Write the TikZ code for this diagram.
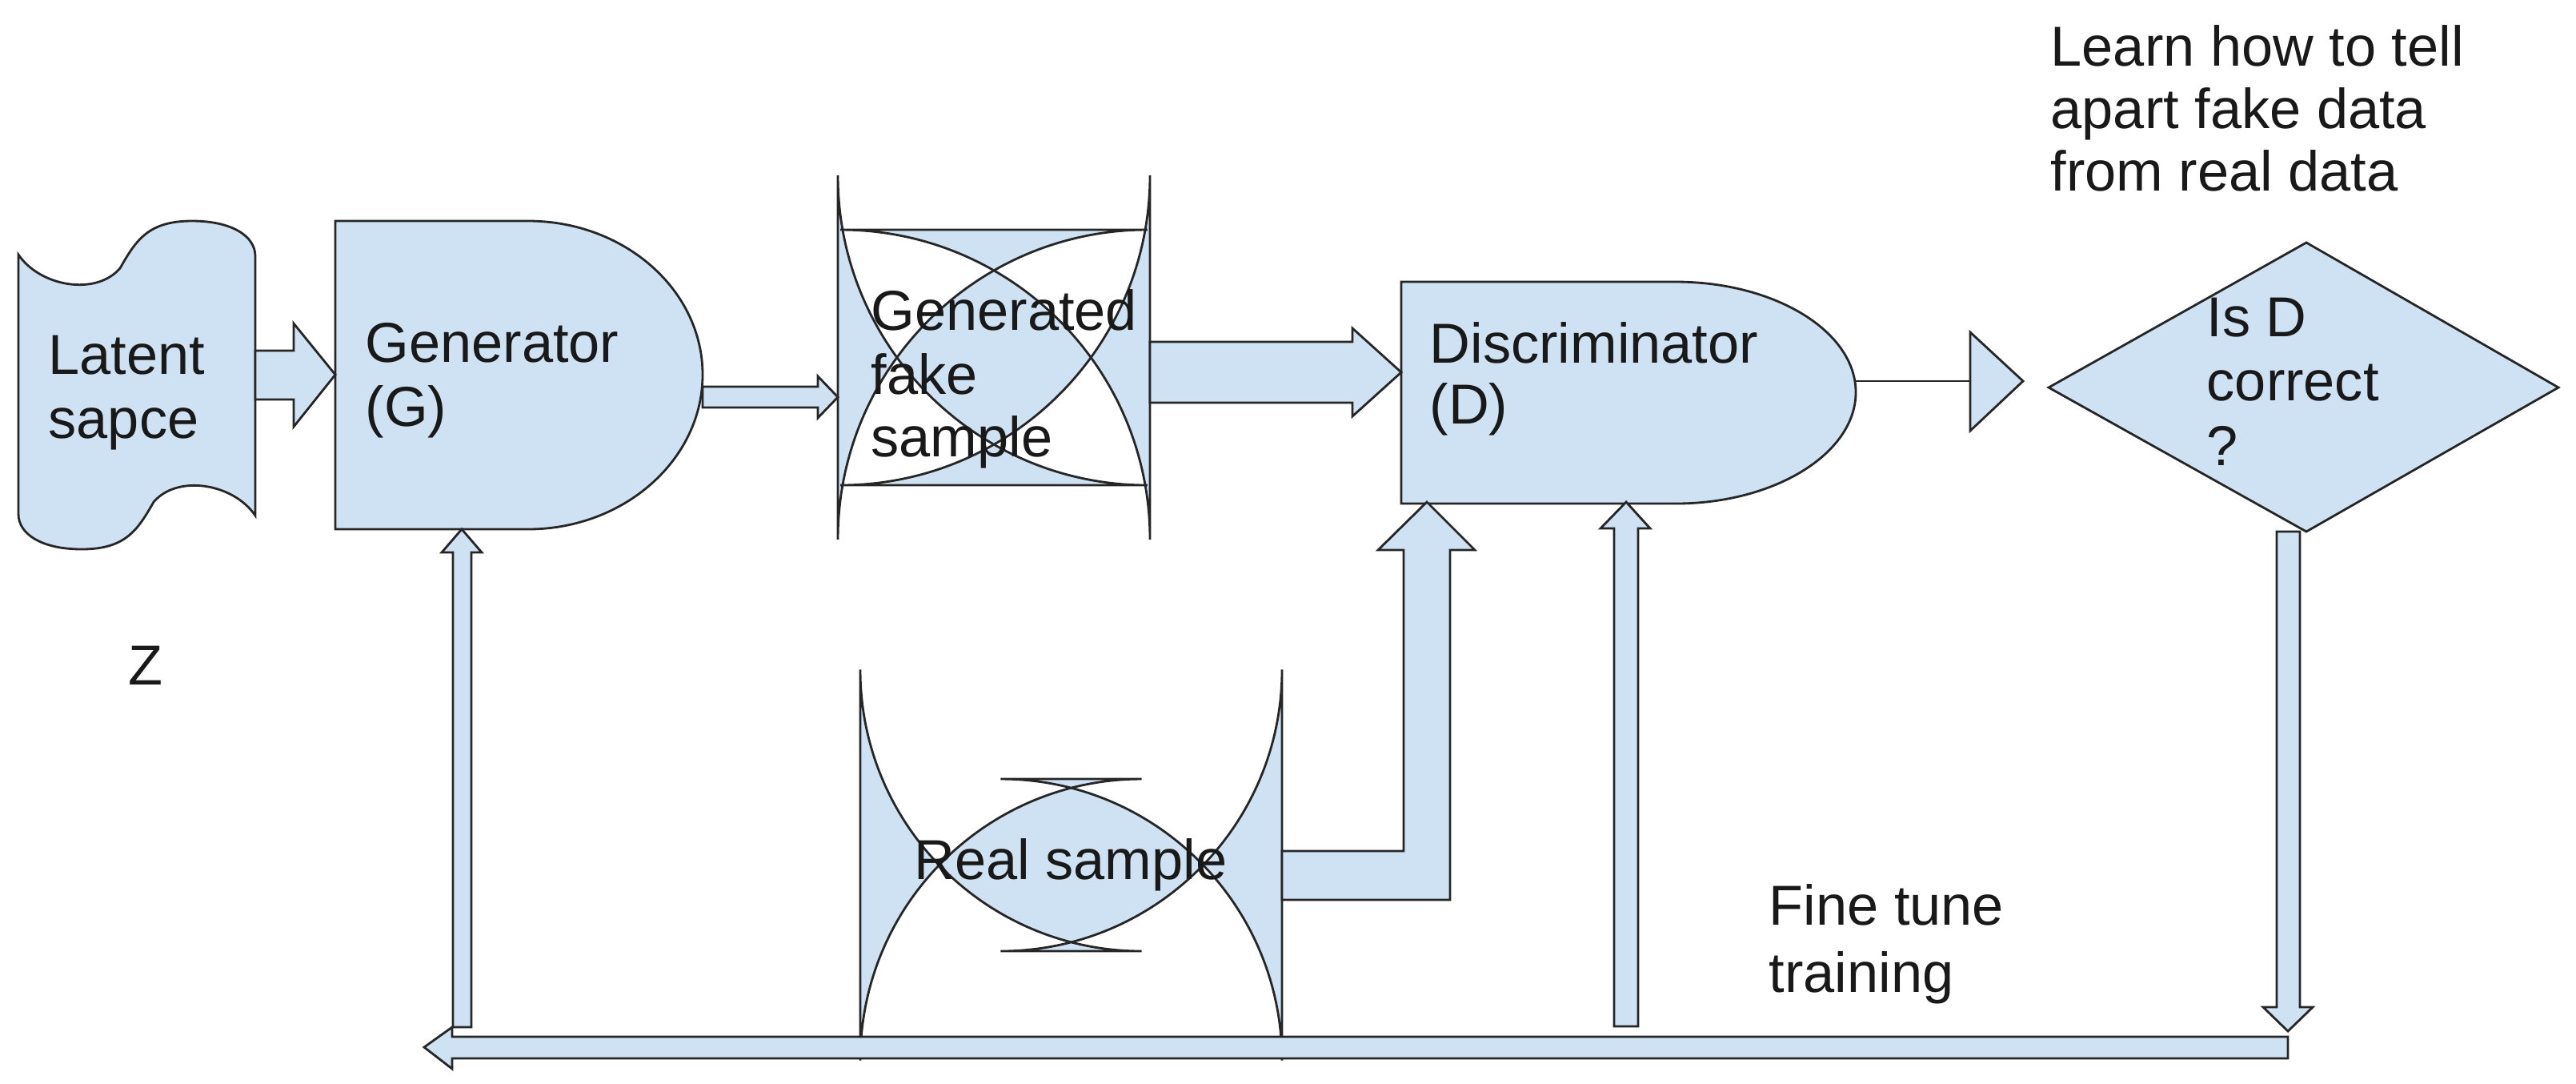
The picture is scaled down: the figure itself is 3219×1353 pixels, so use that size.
\documentclass[tikz,border=0pt]{standalone}
\usepackage{fontspec}
\setmainfont{Liberation Sans}
\begin{document}
\begin{tikzpicture}[x=0.01cm,y=-0.01cm,
  blk/.style={fill=boxblue,draw=black!85,line width=0.8pt,line join=miter},
  txt/.style={anchor=base west,inner sep=0pt,font=\fontsize{20}{23}\selectfont,text=black!90},
  ml/.style={txt,align=left,anchor=north west}]
\definecolor{boxblue}{HTML}{CFE2F3}
\useasboundingbox (0,0) rectangle (3219,1353);
% Latent space (tape)
\draw[blk] (23,318) .. controls (50,358) and (120,370) .. (150,335) .. controls (170,300) and (185,276) .. (240,276) .. controls (290,276) and (319,295) .. (319,320) -- (319,644) .. controls (292,604) and (222,592) .. (192,627) .. controls (172,662) and (157,686) .. (102,686) .. controls (52,686) and (23,667) .. (23,642) -- cycle;
\node[txt] (lat1) at (60,467) {Latent};
\node[txt] (lat2) at (60,547) {sapce};
% Generator
\draw[blk] (419,276) -- (660,276) .. controls (780,276) and (878,362) .. (878,468) .. controls (878,574) and (780,661) .. (660,661) -- (419,661) -- cycle;
\node[txt] (gen1) at (456,452) {Generator};
\node[txt] (gen2) at (456,532) {(G)};
% Generated fake sample
\draw[blk,rounded corners=110] (1047,287) rectangle (1437,606);
\node[txt] (f1) at (1088,412) {Generated};
\node[txt] (f2) at (1088,492) {fake};
\node[txt] (f3) at (1088,570) {sample};
% Discriminator
\draw[blk] (1751,352) -- (2094,352) .. controls (2218,352) and (2319,414) .. (2319,490) .. controls (2319,566) and (2218,629) .. (2094,629) -- (1751,629) -- cycle;
\node[txt] (d1) at (1786,453) {Discriminator};
\node[txt] (d2) at (1786,529) {(D)};
% Real sample
\draw[blk,rounded corners=100] (1075,973) rectangle (1602,1188);
\node[txt,anchor=center] (real) at (1338,1080) {Real sample};
% Diamond
\draw[blk] (2560,484) -- (2882,303) -- (3197,484) -- (2882,664) -- cycle;
\node[txt] (q1) at (2757,420) {Is D};
\node[txt] (q2) at (2757,500) {correct};
\node[txt] (q3) at (2757,581) {?};
% labels
\node[txt] (l1) at (2562,82) {Learn how to tell};
\node[txt] (l2) at (2562,160) {apart fake data};
\node[txt] (l3) at (2562,238) {from real data};
\node[txt] (z) at (160,855) {Z};
\node[txt] (ft1) at (2210,1155) {Fine tune};
\node[txt] (ft2) at (2210,1239) {training};
% arrows
\draw[blk] (319,438)--(367,438)--(367,404)--(419,468)--(367,533)--(367,499)--(319,499)--cycle;
\draw[blk] (878,483)--(1022,483)--(1022,470)--(1047,496)--(1022,522)--(1022,509)--(878,509)--cycle;
\draw[blk] (1437,427)--(1690,427)--(1690,410)--(1751,465)--(1690,520)--(1690,503)--(1437,503)--cycle;
\draw[black!85,line width=0.8pt] (2319,476)--(2462,476);
\draw[blk] (2462,415)--(2528,476)--(2462,538)--cycle;
\draw[blk] (2845,664)--(2874,664)--(2874,1258)--(2890,1258)--(2859,1288)--(2828,1258)--(2845,1258)--cycle;
\draw[blk] (2859,1295)--(2859,1322)--(565,1322)--(565,1335)--(530,1308)--(565,1283)--(565,1295)--cycle;
\draw[blk] (2017,1282)--(2017,660)--(2000,660)--(2032,627)--(2062,660)--(2047,660)--(2047,1282)--cycle;
\draw[blk] (566,1283)--(566,690)--(552,690)--(577,661)--(602,690)--(589,690)--(589,1283)--cycle;
\draw[blk] (1602,1063)--(1754,1063)--(1754,687)--(1722,687)--(1783,627)--(1843,687)--(1812,687)--(1812,1124)--(1602,1124)--cycle;
\end{tikzpicture}
\end{document}
